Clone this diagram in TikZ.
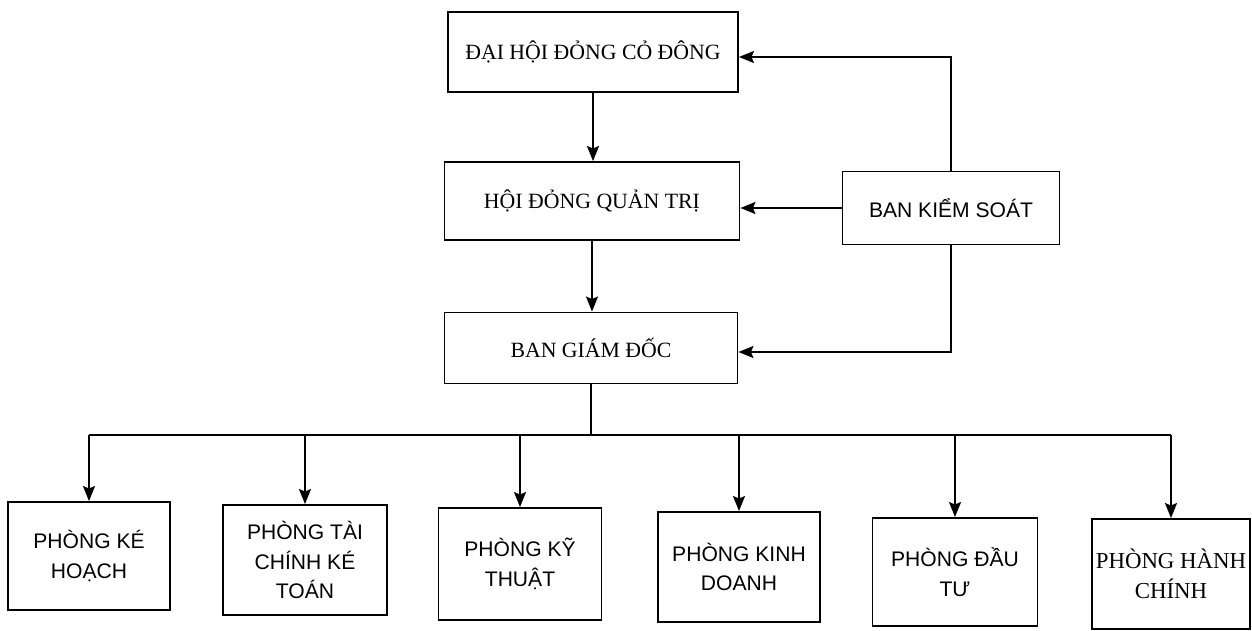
\documentclass[tikz,border=0pt]{standalone}
\usepackage{fontspec}
\setmainfont{Liberation Serif}
\setsansfont{Liberation Sans}
\usetikzlibrary{arrows.meta,calc}
\tikzset{
  box/.style={draw, line width=1.1pt, inner sep=0pt, align=center},
  topbox/.style={box, font=\fontsize{12.4}{14}\selectfont},
  deptbox/.style={box, font=\sffamily\fontsize{12}{17}\selectfont},
  serifdept/.style={box, font=\fontsize{13}{17}\selectfont},
  conn/.style={line width=1.1pt},
  arr/.style={conn, -{Stealth[length=0.3cm,width=0.24cm,inset=0.05cm]}}
}
\begin{document}
\begin{tikzpicture}[x=0.02cm,y=-0.02cm]
\useasboundingbox (0,0) rectangle (1252,631);
% top level
\node[topbox, minimum width=5.8cm, minimum height=1.6cm] (dh) at (593,52) {ĐẠI HỘI ĐỎNG CỎ ĐÔNG};
\node[topbox, minimum width=5.9cm, minimum height=1.56cm] (hd) at (592,201) {HỘI ĐỎNG QUẢN TRỊ};
\node[box, font=\sffamily\fontsize{12}{14}\selectfont, minimum width=4.34cm, minimum height=1.46cm] (bks) at (951,208) {BAN KIỂM SOÁT};
\node[topbox, minimum width=5.86cm, minimum height=1.42cm] (bgd) at (591,348) {BAN GIÁM ĐỐC};
% departments
\node[deptbox, minimum width=3.24cm, minimum height=2.16cm] (p1) at (89,556) {PHÒNG KÉ\\HOẠCH};
\node[deptbox, minimum width=3.28cm, minimum height=2.2cm] (p2) at (305,560) {PHÒNG TÀI\\CHÍNH KÉ\\TOÁN};
\node[deptbox, minimum width=3.26cm, minimum height=2.24cm] (p3) at (520,564) {PHÒNG KỸ\\THUẬT};
\node[deptbox, minimum width=3.24cm, minimum height=2.2cm] (p4) at (739,567) {PHÒNG KINH\\DOANH};
\node[deptbox, minimum width=3.3cm, minimum height=2.16cm] (p5) at (955,572) {PHÒNG ĐẦU\\TƯ};
\node[serifdept, minimum width=3.16cm, minimum height=2.2cm] (p6) at (1171,574) {PHÒNG HÀNH\\CHÍNH};
% vertical chain
\draw[arr] (dh.south) -- (dh.south |- hd.north);
\draw[arr] (hd.south) -- (hd.south |- bgd.north);
% control board
\draw[arr] (bks.north) |- ($(dh.east)+(0,5)$);
\draw[arr] (bks.west) -- (bks.west -| hd.east);
\draw[arr] (bks.south) |- ($(bgd.east)+(0,4)$);
% bus
\coordinate (busy) at (0,435);
\coordinate (bus) at (bgd.south |- busy);
\draw[conn] (bgd.south) -- (bus);
\draw[conn] (p1.north |- busy) -- (p6.north |- busy);
\foreach \p in {p1,p2,p3,p4,p5,p6}
  \draw[arr] (\p.north |- busy) -- (\p.north);
\end{tikzpicture}
\end{document}
